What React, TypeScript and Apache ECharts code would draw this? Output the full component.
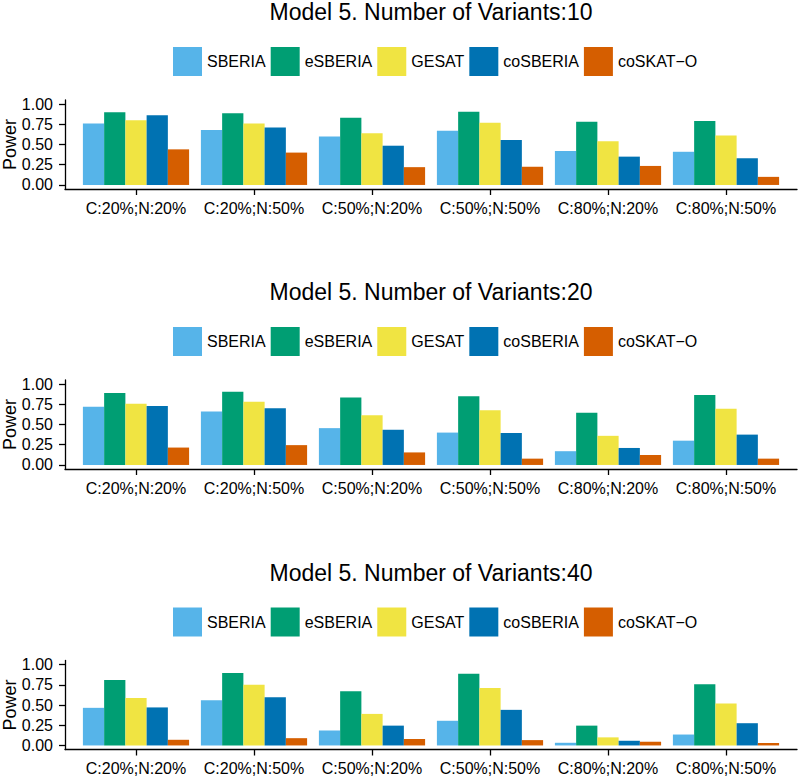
import React, { useEffect, useRef } from "react";
import * as echarts from "echarts";

const categories = ["C:20%;N:20%", "C:20%;N:50%", "C:50%;N:20%", "C:50%;N:50%", "C:80%;N:20%", "C:80%;N:50%"];
const methods = ["SBERIA", "eSBERIA", "GESAT", "coSBERIA", "coSKAT\u2212O"];
const methodColors = ["#56B4E9", "#009E73", "#F0E442", "#0072B2", "#D55E00"];
const panelTitles = [
  "Model 5. Number of Variants:10",
  "Model 5. Number of Variants:20",
  "Model 5. Number of Variants:40",
];
const yAxisTitle = "Power";
const yTicks = [0, 0.25, 0.5, 0.75, 1];

// Panel: 10 variants
const v10_SBERIA = [0.76, 0.68, 0.6, 0.67, 0.42, 0.41];
const v10_eSBERIA = [0.9, 0.885, 0.83, 0.905, 0.78, 0.79];
const v10_GESAT = [0.8, 0.76, 0.64, 0.77, 0.54, 0.61];
const v10_coSBERIA = [0.86, 0.71, 0.485, 0.555, 0.35, 0.33];
const v10_coSKATO = [0.44, 0.4, 0.22, 0.225, 0.235, 0.1];

// Panel: 20 variants
const v20_SBERIA = [0.72, 0.66, 0.455, 0.4, 0.17, 0.3];
const v20_eSBERIA = [0.89, 0.905, 0.835, 0.85, 0.645, 0.865];
const v20_GESAT = [0.755, 0.78, 0.615, 0.675, 0.36, 0.695];
const v20_coSBERIA = [0.73, 0.7, 0.435, 0.395, 0.21, 0.375];
const v20_coSKATO = [0.215, 0.245, 0.155, 0.078, 0.123, 0.078];

// Panel: 40 variants
const v40_SBERIA = [0.465, 0.56, 0.185, 0.305, 0.033, 0.135];
const v40_eSBERIA = [0.81, 0.895, 0.67, 0.885, 0.245, 0.755];
const v40_GESAT = [0.585, 0.75, 0.39, 0.71, 0.1, 0.52];
const v40_coSBERIA = [0.47, 0.595, 0.245, 0.44, 0.058, 0.275];
const v40_coSKATO = [0.07, 0.09, 0.08, 0.066, 0.046, 0.03];

const panelData = [
  [v10_SBERIA, v10_eSBERIA, v10_GESAT, v10_coSBERIA, v10_coSKATO],
  [v20_SBERIA, v20_eSBERIA, v20_GESAT, v20_coSBERIA, v20_coSKATO],
  [v40_SBERIA, v40_eSBERIA, v40_GESAT, v40_coSBERIA, v40_coSKATO],
];

const FONT = "'Liberation Sans', Arial, Helvetica, sans-serif";
const panelTops = [100, 380, 660.5];
const panelHeight = 89;
const frameLeft = 65;
const frameRight = 3;
const dataLeft = 77;
const dataWidth = 708;

export default function App() {
  const ref = useRef<HTMLDivElement>(null);

  useEffect(() => {
    if (!ref.current) return;
    const chart = echarts.init(ref.current, undefined, { renderer: "svg" });

    const grid: any[] = [];
    const xAxis: any[] = [];
    const yAxis: any[] = [];
    const series: any[] = [];
    const legend: any[] = [];
    const graphic: any[] = [];

    panelTops.forEach((top, p) => {
      // frame grid (axis lines + y ticks)
      grid.push({ left: frameLeft, right: frameRight, top, height: panelHeight, containLabel: false, outerBoundsMode: "none" });
      // data grid
      grid.push({ left: dataLeft, width: dataWidth, top, height: panelHeight, containLabel: false, outerBoundsMode: "none" });

      xAxis.push({
        type: "value",
        gridIndex: 2 * p,
        min: 0,
        max: 1,
        axisLine: { show: true, onZero: false, lineStyle: { color: "#000", width: 1.3 } },
        axisTick: { show: false },
        axisLabel: { show: false },
        splitLine: { show: false },
      });
      xAxis.push({
        type: "category",
        gridIndex: 2 * p + 1,
        data: categories,
        axisLine: { show: false, onZero: false },
        axisTick: { show: true, alignWithLabel: true, length: 6, lineStyle: { color: "#000", width: 1.3 } },
        axisLabel: { show: true, color: "#000", fontSize: 16, fontFamily: FONT, margin: 11, interval: 0 },
        splitLine: { show: false },
      });

      yAxis.push({
        type: "value",
        gridIndex: 2 * p,
        min: -0.05,
        max: 1.05,
        axisLine: { show: true, lineStyle: { color: "#000", width: 1.3 } },
        axisTick: { show: true, length: 6, customValues: yTicks, lineStyle: { color: "#000", width: 1.3 } },
        axisLabel: {
          show: true,
          customValues: yTicks,
          color: "#000",
          fontSize: 16,
          fontFamily: FONT,
          margin: 12,
          formatter: (v: number) => v.toFixed(2),
        },
        splitLine: { show: false },
      });
      yAxis.push({
        type: "value",
        gridIndex: 2 * p + 1,
        min: -0.05,
        max: 1.05,
        show: false,
        splitLine: { show: false },
      });

      methods.forEach((m, i) => {
        series.push({
          type: "bar",
          name: m,
          xAxisIndex: 2 * p + 1,
          yAxisIndex: 2 * p + 1,
          data: panelData[p][i],
          barGap: "0%",
          barCategoryGap: "10%",
          itemStyle: { color: methodColors[i] },
          emphasis: { disabled: true },
        });
      });

      legend.push({
        data: methods,
        left: 173,
        top: top - 53,
        padding: 0,
        itemWidth: 29,
        itemHeight: 29,
        itemGap: 5,
        icon: "rect",
        selectedMode: false,
        textStyle: { color: "#000", fontSize: 16, fontFamily: FONT },
      });

      graphic.push({
        type: "text",
        x: frameLeft + (800 - frameRight - frameLeft) / 2,
        y: top - 88,
        style: {
          text: panelTitles[p],
          fill: "#000",
          font: `23px ${FONT}`,
          textAlign: "center",
          textVerticalAlign: "middle",
        },
      });
      graphic.push({
        type: "text",
        x: 10,
        y: top + panelHeight / 2,
        rotation: Math.PI / 2,
        style: {
          text: yAxisTitle,
          fill: "#000",
          font: `18px ${FONT}`,
          textAlign: "center",
          textVerticalAlign: "middle",
        },
      });
    });

    chart.setOption({
      animation: false,
      backgroundColor: "#fff",
      grid,
      xAxis,
      yAxis,
      series,
      legend,
      graphic,
    });

    return () => chart.dispose();
  }, []);

  return (
    <div
      ref={ref}
      style={{ position: "absolute", left: 0, top: 0, width: 800, height: 776 }}
    />
  );
}
